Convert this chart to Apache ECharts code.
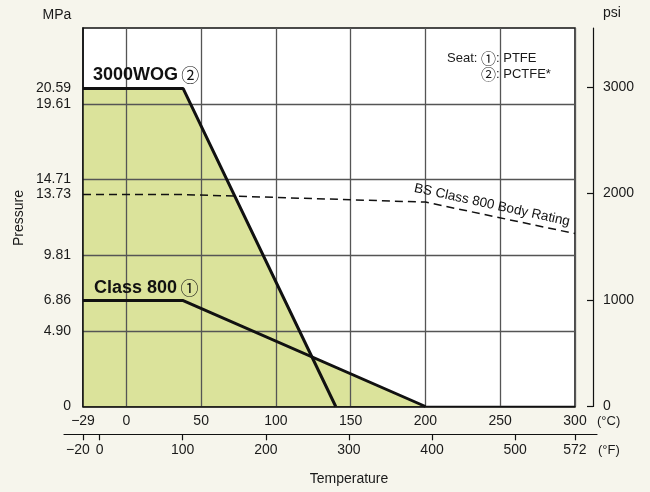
<!DOCTYPE html>
<html>
<head>
<meta charset="utf-8">
<script src="https://cdn.jsdelivr.net/npm/echarts@6/dist/echarts.min.js"></script>
<style>
  html, body { margin: 0; padding: 0; background: #f6f5ec; }
  #chart { width: 650px; height: 492px; }
</style>
</head>
<body>
<div id="chart"></div>
<script>
// pressure / temperature rating, temperature in °C, pressure in MPa
const wogTemp = [-29, 38, 140];
const wogPressure = [20.59, 20.59, 0];
const class800Temp = [-29, 38, 200];
const class800Pressure = [6.86, 6.86, 0];
const bodyTemp = [-29, 38, 200, 300];
const bodyPressure = [13.73, 13.73, 13.24, 11.2];

// axis ticks
const celsiusLabels = [-29, 0, 50, 100, 150, 200, 250, 300];
const celsiusGrid = [0, 50, 100, 150, 200, 250, 300];
const fahrenheitTicks = [-20, 0, 100, 200, 300, 400, 500, 572];
const mpaLabels = [0, 4.90, 6.86, 9.81, 13.73, 14.71, 19.61, 20.59];
const mpaGrid = [4.90, 9.81, 14.71, 19.61];

const MPA_MAX = 24.5166;        // 250 kgf/cm2
const PSI_PER_MPA = 145.038;

const FONT = '"Liberation Sans", Arial, "Noto Sans CJK JP", sans-serif';
const CIRCLE_FONT = '"Noto Sans CJK JP", "DejaVu Sans", sans-serif';
const TEXT = '#1a1a1a';
const FILL = '#dbe39b';
const GRIDLINE = '#555';

const pts = (xs, ys) => xs.map((x, i) => [x, ys[i]]);
const minus = v => String(v).replace('-', '\u2212');

const chart = echarts.init(document.getElementById('chart'));

const txt = (text, x, y, extra) => ({
  type: 'text',
  x: x, y: y,
  style: Object.assign({
    text: text,
    fill: TEXT,
    font: '14px ' + FONT,
    textAlign: 'left',
    textVerticalAlign: 'middle'
  }, extra || {})
});

const option = {
  backgroundColor: '#f6f5ec',
  animation: false,
  grid: [
    { left: 83, top: 28, width: 492, height: 378.5, show: true,
      backgroundColor: '#ffffff', borderColor: '#111', borderWidth: 1.5 },
    { left: 64, width: 533, top: 430, height: 4.3 }
  ],
  xAxis: [
    {
      type: 'value', gridIndex: 0, min: -29, max: 300, z: 3,
      axisLine: { show: true, onZero: false, lineStyle: { color: '#111', width: 1.5 } },
      axisTick: { show: false, customValues: celsiusGrid },
      splitLine: { show: true, lineStyle: { color: GRIDLINE, width: 1.3 } },
      axisLabel: {
        customValues: celsiusLabels, margin: 8, color: TEXT,
        fontSize: 14, fontFamily: FONT, formatter: minus
      }
    },
    {
      type: 'value', gridIndex: 1, min: -42.86, max: 598.5,
      axisLine: { show: true, onZero: false, lineStyle: { color: '#111', width: 1.2 } },
      axisTick: { show: true, customValues: fahrenheitTicks, length: 6,
        lineStyle: { color: '#111', width: 1.2 } },
      splitLine: { show: false },
      axisLabel: {
        customValues: fahrenheitTicks, margin: 9, color: TEXT,
        fontSize: 14, fontFamily: FONT,
        formatter: v => (v === -20 ? '{l|' + minus(v) + '}' : minus(v)),
        rich: { l: { fontSize: 14, fontFamily: FONT, color: TEXT, padding: [0, 10, 0, 0] } }
      }
    }
  ],
  yAxis: [
    {
      type: 'value', gridIndex: 0, min: 0, max: MPA_MAX, z: 3,
      axisLine: { show: true, onZero: false, lineStyle: { color: '#111', width: 1.5 } },
      axisTick: { show: false, customValues: mpaGrid },
      splitLine: { show: true, lineStyle: { color: GRIDLINE, width: 1.3 } },
      axisLabel: {
        customValues: mpaLabels, margin: 12, color: TEXT,
        fontSize: 14, fontFamily: FONT,
        formatter: v => (v === 0 ? '0' : v.toFixed(2))
      }
    },
    {
      type: 'value', gridIndex: 0, position: 'right', offset: 18,
      min: 0, max: MPA_MAX * PSI_PER_MPA, interval: 1000,
      axisLine: { show: true, onZero: false, lineStyle: { color: '#111', width: 1.2 } },
      axisTick: { show: true, inside: true, length: 6, lineStyle: { color: '#111', width: 1.2 } },
      splitLine: { show: false },
      axisLabel: {
        margin: 10, color: TEXT, fontSize: 14, fontFamily: FONT,
        showMaxLabel: false,
        formatter: v => (v > 3000 ? '' : String(v))
      }
    },
    { type: 'value', gridIndex: 1, show: false, min: 0, max: 1 }
  ],
  series: [
    {
      name: '3000WOG fill', type: 'line', xAxisIndex: 0, yAxisIndex: 0,
      data: pts(wogTemp, wogPressure), symbol: 'none', z: 1,
      lineStyle: { width: 0 }, areaStyle: { color: FILL, opacity: 1 }
    },
    {
      name: 'Class 800 fill', type: 'line', xAxisIndex: 0, yAxisIndex: 0,
      data: pts(class800Temp, class800Pressure), symbol: 'none', z: 1,
      lineStyle: { width: 0 }, areaStyle: { color: FILL, opacity: 1 }
    },
    {
      name: 'BS Class 800 Body Rating', type: 'line', xAxisIndex: 0, yAxisIndex: 0,
      data: pts(bodyTemp, bodyPressure), symbol: 'none', z: 4,
      lineStyle: { color: '#111', width: 1.5, type: [8, 5] }
    },
    {
      name: '3000WOG', type: 'line', xAxisIndex: 0, yAxisIndex: 0,
      data: pts(wogTemp, wogPressure), symbol: 'none', z: 5,
      lineStyle: { color: '#111', width: 3 }
    },
    {
      name: 'Class 800', type: 'line', xAxisIndex: 0, yAxisIndex: 0,
      data: pts(class800Temp, class800Pressure), symbol: 'none', z: 5,
      lineStyle: { color: '#111', width: 3 }
    }
  ],
  graphic: [
    txt('MPa', 57, 15, { textAlign: 'center' }),
    txt('psi', 603, 13),
    {
      type: 'text', x: 19, y: 218, rotation: Math.PI / 2,
      style: { text: 'Pressure', fill: TEXT, font: '14px ' + FONT,
        textAlign: 'center', textVerticalAlign: 'middle' }
    },
    txt('Temperature', 349, 479, { textAlign: 'center' }),
    txt('(°C)', 597, 421, { font: '13px ' + FONT }),
    txt('(°F)', 598, 450, { font: '13px ' + FONT }),
    {
      type: 'text', x: 93, y: 75, z: 10,
      style: {
        text: '{b|3000WOG} {c|②}',
        textVerticalAlign: 'middle',
        rich: {
          b: { fontSize: 18, fontWeight: 'bold', fontFamily: FONT, fill: '#111' },
          c: { fontSize: 18, fontFamily: CIRCLE_FONT, fill: '#111' }
        }
      }
    },
    {
      type: 'text', x: 94, y: 288, z: 10,
      style: {
        text: '{b|Class 800} {c|①}',
        textVerticalAlign: 'middle',
        rich: {
          b: { fontSize: 18, fontWeight: 'bold', fontFamily: FONT, fill: '#111' },
          c: { fontSize: 18, fontFamily: CIRCLE_FONT, fill: '#111' }
        }
      }
    },
    {
      type: 'text', x: 492, y: 205, rotation: -0.215, z: 10,
      style: { text: 'BS Class 800 Body Rating', fill: '#111', font: '13.5px ' + FONT,
        textAlign: 'center', textVerticalAlign: 'middle' }
    },
    txt('Seat: ', 481, 58, { textAlign: 'right', font: '13px ' + FONT }),
    {
      type: 'text', x: 481, y: 58, z: 10,
      style: {
        text: '{c|①}{t|: PTFE}', textVerticalAlign: 'middle',
        rich: {
          c: { fontSize: 15, fontFamily: CIRCLE_FONT, fill: TEXT },
          t: { fontSize: 13, fontFamily: FONT, fill: TEXT }
        }
      }
    },
    {
      type: 'text', x: 481, y: 74, z: 10,
      style: {
        text: '{c|②}{t|: PCTFE*}', textVerticalAlign: 'middle',
        rich: {
          c: { fontSize: 15, fontFamily: CIRCLE_FONT, fill: TEXT },
          t: { fontSize: 13, fontFamily: FONT, fill: TEXT }
        }
      }
    }
  ]
};

chart.setOption(option);
</script>
</body>
</html>
